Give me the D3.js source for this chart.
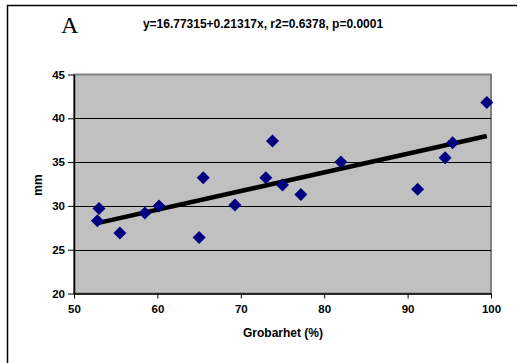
<!DOCTYPE html>
<html>
<head>
<meta charset="utf-8">
<script src="https://cdn.jsdelivr.net/npm/d3@7"></script>
<style>
body { margin: 0; background: #fff; }
text { font-family: "Liberation Sans", Arial, sans-serif; font-weight: bold; }
</style>
</head>
<body>
<svg width="518" height="363"></svg>
<script>
var grobarhet = [52.8, 53.0, 55.5, 58.5, 60.2, 65.0, 65.5, 69.3, 73.0, 73.8, 75.0, 77.2, 82.0, 91.2, 94.5, 95.4, 99.5];
var mm = [28.3, 29.7, 26.9, 29.2, 30.0, 26.4, 33.2, 30.1, 33.2, 37.4, 32.4, 31.3, 35.0, 31.9, 35.5, 37.2, 41.8];
var coef = [16.77315, 0.21317]; // intercept, slope
var xTicks = [50, 60, 70, 80, 90, 100];
var yTicks = [20, 25, 30, 35, 40, 45];

var all = [];
for (var i = 0; i < grobarhet.length; i++) {
    all.push([grobarhet[i], mm[i]]);
}

var container = d3.select("svg");

// outer frame
container.append("path").attr("d", "M7.5,400 V5.5 H517").attr("fill", "none").attr("stroke", "#000").attr("stroke-width", 1.5);

var xscale = d3.scaleLinear().domain([50, 100]).range([74, 491]);
var yscale = d3.scaleLinear().domain([20, 45]).range([293.5, 74.5]);

// plot area
container.append("rect")
    .attr("x", xscale(50)).attr("y", yscale(45))
    .attr("width", xscale(100) - xscale(50)).attr("height", yscale(20) - yscale(45))
    .attr("fill", "#c0c0c0").attr("stroke", "#808080").attr("stroke-width", 2);

// gridlines
container.selectAll("line.grid").data(yTicks.slice(1, -1)).enter().append("line")
    .attr("x1", xscale(50)).attr("x2", xscale(100))
    .attr("y1", function(d){ return Math.round(yscale(d)) + 0.5; })
    .attr("y2", function(d){ return Math.round(yscale(d)) + 0.5; })
    .attr("stroke", "#000").attr("stroke-width", 1);

var x_axis = d3.axisBottom().scale(xscale).tickValues(xTicks).tickSize(5).tickSizeOuter(0).tickPadding(6);
var y_axis = d3.axisLeft().scale(yscale).tickValues(yTicks).tickSize(6).tickSizeOuter(0).tickPadding(3);

var gx = container.append("g").attr("transform", "translate(0," + yscale(20) + ")").call(x_axis);
var gy = container.append("g").attr("transform", "translate(" + xscale(50) + ",0)").call(y_axis);
gx.selectAll("text").style("font-size", "11.5px").style("fill", "#000");
gy.selectAll("text").style("font-size", "11.5px").style("fill", "#000");
gx.select(".domain").attr("stroke-width", 1.5);
gy.select(".domain").attr("stroke-width", 1.5);

// regression line
var xmin = d3.min(grobarhet), xmax = d3.max(grobarhet);
var fit = [[xmin, coef[0] + coef[1] * xmin], [xmax, coef[0] + coef[1] * xmax]];
container.append("path").datum(fit)
    .attr("d", d3.line().x(function(d){ return xscale(d[0]); }).y(function(d){ return yscale(d[1]); }))
    .attr("stroke", "#000").attr("stroke-width", 4.5).attr("fill", "none");

// points
container.selectAll("path.pt").data(all).enter().append("path")
    .attr("class", "pt")
    .attr("d", "M0,-6.5 L6.5,0 L0,6.5 L-6.5,0 Z")
    .attr("transform", function(d){ return "translate(" + xscale(d[0]) + "," + yscale(d[1]) + ")"; })
    .attr("fill", "#000080");

// texts
container.append("text")
    .attr("x", 263).attr("y", 28)
    .style("text-anchor", "middle").style("font-size", "12px")
    .text("y=16.77315+0.21317x, r2=0.6378, p=0.0001");

container.append("text")
    .attr("x", 61).attr("y", 33)
    .style("font-family", "'Liberation Serif', 'Times New Roman', serif").style("font-weight", "normal")
    .style("font-size", "24px")
    .text("A");

container.append("text")
    .attr("transform", "rotate(-90)")
    .attr("x", -185).attr("y", 42)
    .style("text-anchor", "middle").style("font-size", "12px")
    .text("mm");

container.append("text")
    .attr("x", 283).attr("y", 337)
    .style("text-anchor", "middle").style("font-size", "12px")
    .text("Grobarhet (%)");
</script>
</body>
</html>
